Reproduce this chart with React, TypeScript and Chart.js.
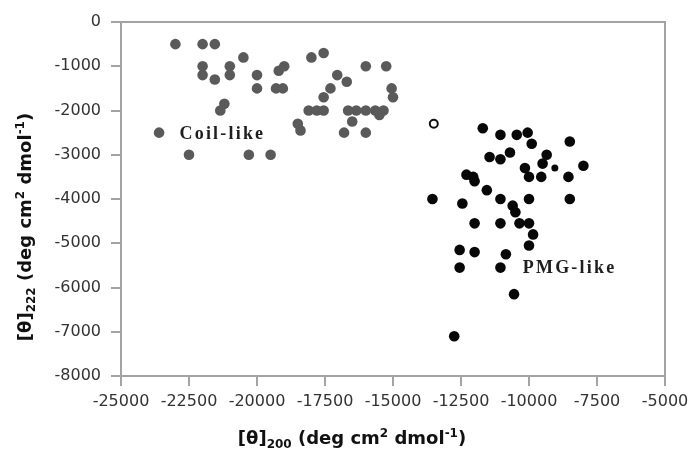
import React, { useEffect, useRef } from "react";
import { Chart, registerables } from "chart.js";

Chart.register(...registerables);

// ---- data ----
const xMin = -25000;
const xMax = -5000;
const xStep = 2500;
const yMin = -8000;
const yMax = 0;
const yStep = 1000;

const coilX = [
  -23000, -22000, -21550, -22000, -22000, -21550, -21000, -21000, -20500, -20000,
  -20000, -21200, -21350, -23600, -22500, -20300, -19500, -19200, -19000, -19300,
  -19050, -18000, -17550, -18500, -18400, -18100, -17800, -17550, -17550, -17300,
  -17050, -16700, -16650, -16350, -16500, -16800, -16000, -16000, -16000, -15650,
  -15350, -15500, -15250, -15050, -15000,
];
const coilY = [
  -500, -500, -500, -1000, -1200, -1300, -1000, -1200, -800, -1200,
  -1500, -1850, -2000, -2500, -3000, -3000, -3000, -1100, -1000, -1500,
  -1500, -800, -700, -2300, -2450, -2000, -2000, -2000, -1700, -1500,
  -1200, -1350, -2000, -2000, -2250, -2500, -1000, -2000, -2500, -2000,
  -2000, -2100, -1000, -1500, -1700,
];

const pmgX = [
  -11700, -11050, -10450, -10050, -9900, -8500, -11450, -11050, -10700, -9350,
  -9500, -8000, -10150, -10000, -9550, -8550, -12300, -12050, -12000, -11550,
  -13550, -12450, -11050, -10600, -10500, -10000, -8500, -12000, -11050, -10350,
  -10000, -9850, -10000, -12550, -12000, -10850, -12550, -11050, -10550, -12750,
];
const pmgY = [
  -2400, -2550, -2550, -2500, -2750, -2700, -3050, -3100, -2950, -3000,
  -3200, -3250, -3300, -3500, -3500, -3500, -3450, -3500, -3600, -3800,
  -4000, -4100, -4000, -4150, -4300, -4000, -4000, -4550, -4550, -4550,
  -4550, -4800, -5050, -5150, -5200, -5250, -5550, -5550, -6150, -7100,
];

const pmgSmallX = [-9050];
const pmgSmallY = [-3300];

const openX = [-13500];
const openY = [-2300];

const labelTexts = ["Coil-like", "PMG-like"];
const labelX = [-22850, -10230];
const labelY = [-2550, -5560];

const xTitleRuns = [
  { t: "[θ]", k: "n" },
  { t: "200", k: "sub" },
  { t: " (deg cm", k: "n" },
  { t: "2", k: "sup" },
  { t: " dmol", k: "n" },
  { t: "-1", k: "sup" },
  { t: ")", k: "n" },
];
const yTitleRuns = [
  { t: "[θ]", k: "n" },
  { t: "222", k: "sub" },
  { t: " (deg cm", k: "n" },
  { t: "2", k: "sup" },
  { t: " dmol", k: "n" },
  { t: "-1", k: "sup" },
  { t: ")", k: "n" },
];

const zip = (xs: number[], ys: number[]) => xs.map((x, i) => ({ x, y: ys[i] }));

const AXIS_COLOR = "#a3a3a3";
const TICK_FONT = { family: "'DejaVu Sans'", size: 16 };

function drawRuns(
  ctx: CanvasRenderingContext2D,
  runs: { t: string; k: string }[],
  cx: number,
  cy: number,
  rotate: boolean
) {
  const mainFont = "bold 18px 'DejaVu Sans'";
  const smallFont = "bold 12px 'DejaVu Sans'";
  ctx.save();
  ctx.translate(cx, cy);
  if (rotate) ctx.rotate(-Math.PI / 2);
  ctx.fillStyle = "#111";
  ctx.textBaseline = "alphabetic";
  ctx.textAlign = "left";
  let total = 0;
  const widths = runs.map((r) => {
    ctx.font = r.k === "n" ? mainFont : smallFont;
    const w = ctx.measureText(r.t).width;
    total += w;
    return w;
  });
  let x = -total / 2;
  const base = 6;
  runs.forEach((r, i) => {
    ctx.font = r.k === "n" ? mainFont : smallFont;
    const dy = r.k === "sub" ? 4 : r.k === "sup" ? -7 : 0;
    ctx.fillText(r.t, x, base + dy);
    x += widths[i];
  });
  ctx.restore();
}

const decorPlugin = {
  id: "decor",
  afterDraw(chart: any) {
    const ctx: CanvasRenderingContext2D = chart.ctx;
    const { left, right, top, bottom } = chart.chartArea;
    ctx.save();
    ctx.strokeStyle = AXIS_COLOR;
    ctx.lineWidth = 2;
    ctx.beginPath();
    ctx.moveTo(left, top);
    ctx.lineTo(right, top);
    ctx.lineTo(right, bottom);
    ctx.stroke();

    const xs = chart.scales.x;
    const ys = chart.scales.y;
    ctx.font = "bold 18px 'Liberation Serif'";
    (ctx as any).letterSpacing = "2.2px";
    ctx.fillStyle = "#1e1e1e";
    ctx.textBaseline = "middle";
    ctx.textAlign = "left";
    labelTexts.forEach((t, i) => {
      ctx.fillText(t, xs.getPixelForValue(labelX[i]), ys.getPixelForValue(labelY[i]));
    });
    (ctx as any).letterSpacing = "0px";
    ctx.restore();

    drawRuns(ctx, xTitleRuns, 352, 438, false);
    drawRuns(ctx, yTitleRuns, 25, 227, true);
  },
};

export default function App() {
  const ref = useRef<HTMLCanvasElement | null>(null);
  useEffect(() => {
    document.body.style.margin = "0";
    const canvas = ref.current!;
    const chart = new Chart(canvas, {
      type: "scatter",
      data: {
        datasets: [
          {
            data: zip(coilX, coilY),
            pointRadius: 5.3,
            pointBackgroundColor: "#5a5a5a",
            pointBorderColor: "#5a5a5a",
            pointBorderWidth: 0,
          },
          {
            data: zip(pmgX, pmgY),
            pointRadius: 5.3,
            pointBackgroundColor: "#080808",
            pointBorderColor: "#080808",
            pointBorderWidth: 0,
          },
          {
            data: zip(pmgSmallX, pmgSmallY),
            pointRadius: 3.5,
            pointBackgroundColor: "#080808",
            pointBorderColor: "#080808",
            pointBorderWidth: 0,
          },
          {
            data: zip(openX, openY),
            pointRadius: 4,
            pointBackgroundColor: "#ffffff",
            pointBorderColor: "#111111",
            pointBorderWidth: 2,
          },
        ],
      },
      options: {
        animation: false,
        responsive: false,
        events: [],
        layout: { padding: { left: 0, right: 34, top: 22, bottom: 0 } },
        plugins: {
          legend: { display: false },
          tooltip: { enabled: false },
        },
        scales: {
          x: {
            type: "linear",
            min: xMin,
            max: xMax,
            afterFit: (s: any) => {
              s.height = 83;
            },
            border: { display: true, color: AXIS_COLOR, width: 2 },
            grid: {
              drawOnChartArea: false,
              drawTicks: true,
              tickLength: 10,
              color: AXIS_COLOR,
              lineWidth: 2,
            },
            ticks: {
              stepSize: xStep,
              color: "#333",
              font: TICK_FONT,
              padding: 6,
              maxRotation: 0,
              autoSkip: false,
              callback: (v: any) => String(v),
            },
          },
          y: {
            type: "linear",
            min: yMin,
            max: yMax,
            afterFit: (s: any) => {
              s.width = 121;
            },
            border: { display: true, color: AXIS_COLOR, width: 2 },
            grid: {
              drawOnChartArea: false,
              drawTicks: true,
              tickLength: 10,
              color: AXIS_COLOR,
              lineWidth: 2,
            },
            ticks: {
              stepSize: yStep,
              color: "#333",
              font: TICK_FONT,
              padding: 10,
              autoSkip: false,
              callback: (v: any) => String(v),
            },
          },
        },
      },
      plugins: [decorPlugin],
    });
    return () => chart.destroy();
  }, []);
  return (
    <div style={{ width: 699, height: 459 }}>
      <canvas ref={ref} width={699} height={459} style={{ display: "block" }} />
    </div>
  );
}
